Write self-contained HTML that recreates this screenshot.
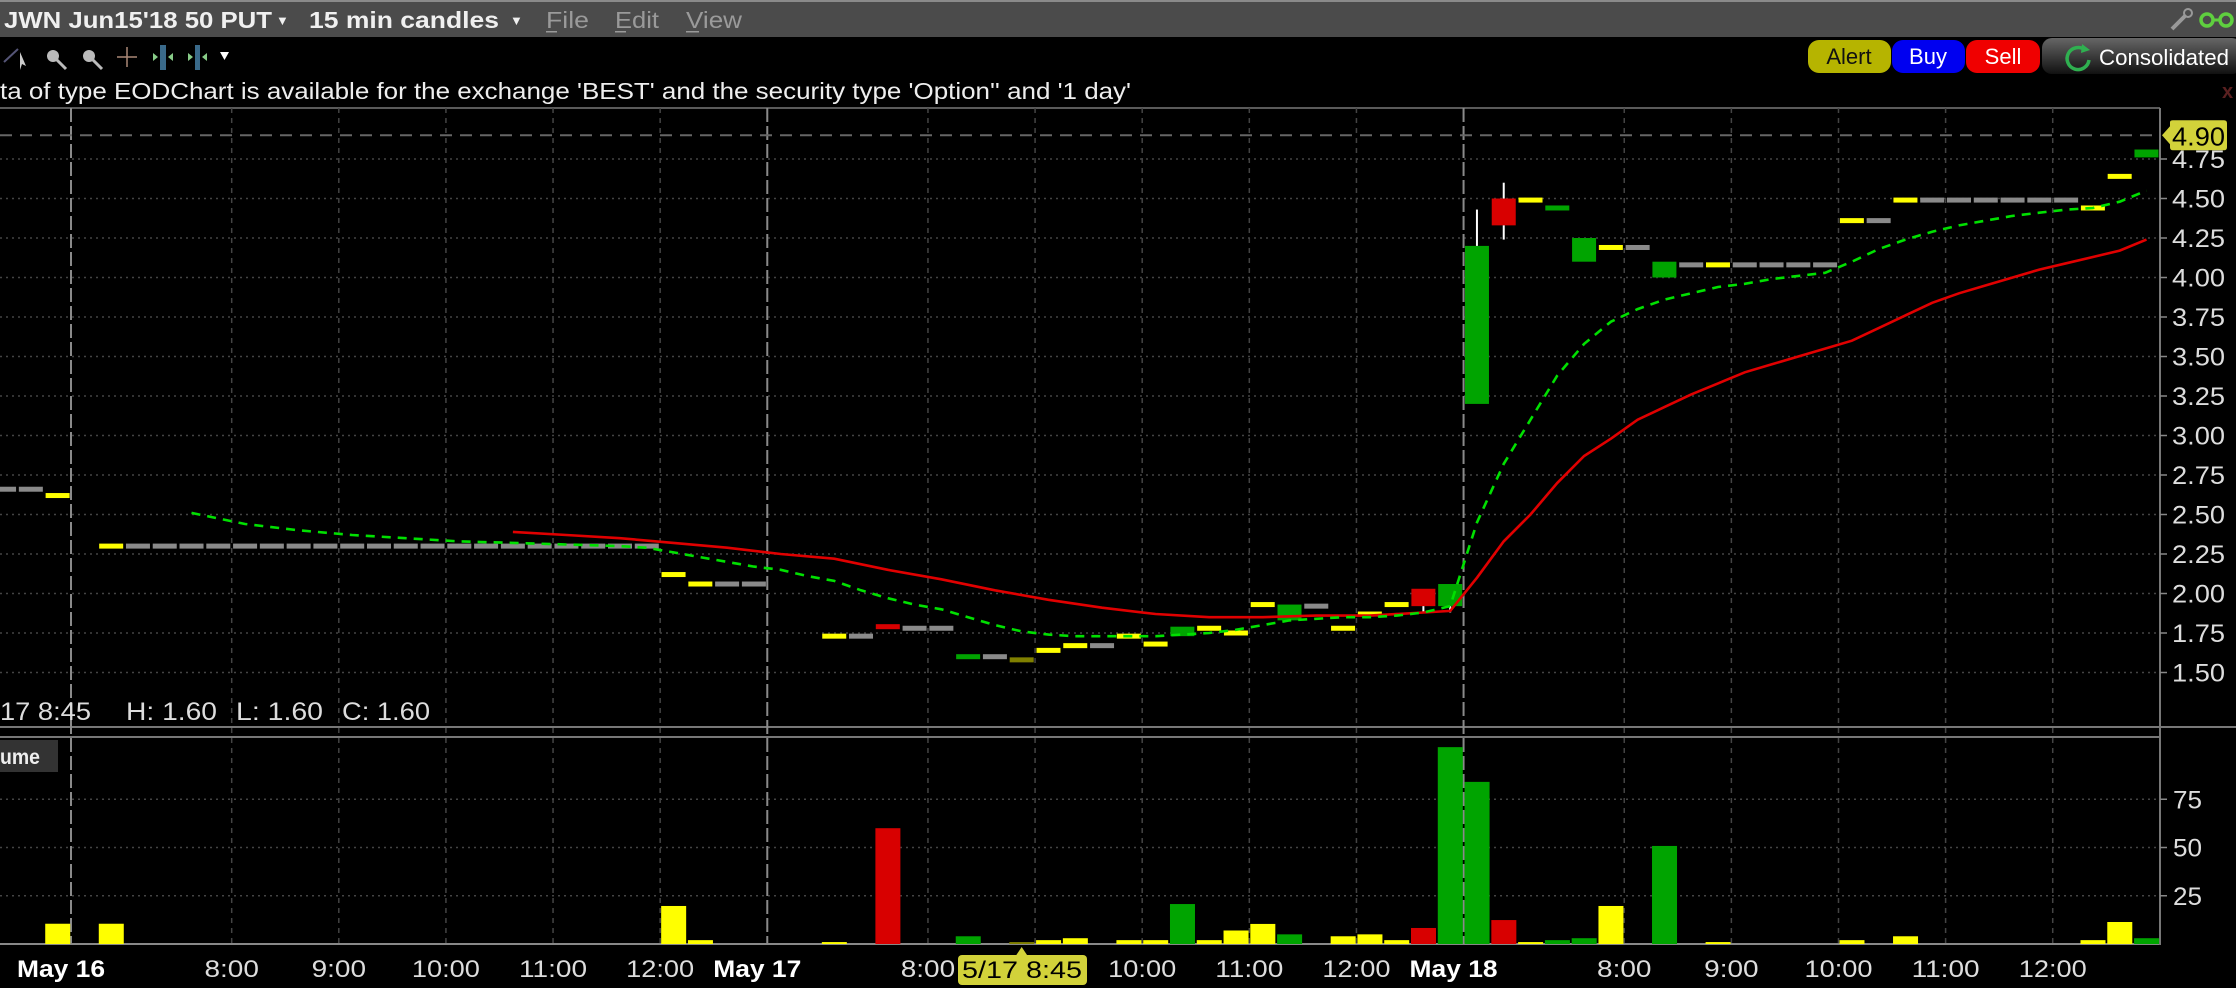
<!DOCTYPE html>
<html><head><meta charset="utf-8"><style>
html,body{margin:0;padding:0;background:#000;width:2236px;height:988px;overflow:hidden}
svg{display:block;font-family:"Liberation Sans",sans-serif}
</style></head><body>
<svg id="chart" xmlns="http://www.w3.org/2000/svg" width="2236" height="988" viewBox="0 0 2236 988">
<rect x="0" y="0" width="2236" height="988" fill="#000"/>
<g>
<rect x="0" y="0" width="2236" height="37" fill="#4b4b4b"/>
<rect x="0" y="0" width="2236" height="2" fill="#8a8a8a"/>
<text x="4" y="28" font-size="23" font-weight="bold" fill="#f0f0f0" textLength="268" lengthAdjust="spacingAndGlyphs">JWN Jun15'18 50 PUT</text>
<text x="276" y="25" font-size="13" fill="#f0f0f0">▼</text>
<text x="309" y="28" font-size="23" font-weight="bold" fill="#f0f0f0" textLength="190" lengthAdjust="spacingAndGlyphs">15 min candles</text>
<text x="510" y="25" font-size="13" fill="#f0f0f0">▼</text>
<text x="546" y="28" font-size="23" fill="#9a9a9a" textLength="43" lengthAdjust="spacingAndGlyphs">File</text>
<rect x="546" y="31" width="11" height="1.5" fill="#9a9a9a"/>
<text x="615" y="28" font-size="23" fill="#9a9a9a" textLength="44" lengthAdjust="spacingAndGlyphs">Edit</text>
<rect x="615" y="31" width="11" height="1.5" fill="#9a9a9a"/>
<text x="686" y="28" font-size="23" fill="#9a9a9a" textLength="56" lengthAdjust="spacingAndGlyphs">View</text>
<rect x="686" y="31" width="13" height="1.5" fill="#9a9a9a"/>
<g><line x1="2172" y1="29" x2="2186" y2="15" stroke="#999" stroke-width="4"/><circle cx="2188" cy="13" r="4" fill="none" stroke="#999" stroke-width="2"/></g>
<g><circle cx="2207" cy="20" r="6" fill="none" stroke="#5fcf3f" stroke-width="3.5"/><circle cx="2226" cy="20" r="6" fill="none" stroke="#5fcf3f" stroke-width="3.5"/><line x1="2213" y1="20" x2="2220" y2="20" stroke="#5fcf3f" stroke-width="3"/></g>
</g>
<g>
<g><line x1="4" y1="62" x2="18" y2="49" stroke="#557" stroke-width="2"/><path d="M20 52 L26 66 L22 64 L20 70 Z" fill="#ccc"/></g>
<g><circle cx="53" cy="56" r="6" fill="#bbb"/><line x1="57" y1="60" x2="66" y2="69" stroke="#bbb" stroke-width="3"/></g>
<g><circle cx="89" cy="56" r="6" fill="#bbb"/><line x1="93" y1="60" x2="102" y2="69" stroke="#bbb" stroke-width="3"/></g>
<g><line x1="117" y1="57" x2="137" y2="57" stroke="#a87" stroke-width="1.5"/><line x1="127" y1="47" x2="127" y2="67" stroke="#a87" stroke-width="1.5"/></g>
<g><rect x="160" y="45" width="6" height="25" fill="#3a6a8a"/><path d="M158 57 L153 53 L153 61 Z M168 57 L173 53 L173 61 Z" fill="#8c8"/></g>
<g><rect x="195" y="45" width="5" height="25" fill="#3a6a8a"/><path d="M193 57 L188 53 L188 61 Z M202 57 L207 53 L207 61 Z" fill="#8c8"/></g>
<path d="M220 52 L229 52 L224.5 60 Z" fill="#fff"/>
<rect x="1808" y="40" width="83" height="33" rx="11" fill="#b6b400"/>
<text x="1849" y="64" font-size="22" fill="#111" text-anchor="middle">Alert</text>
<rect x="1892" y="40" width="73" height="33" rx="11" fill="#0000f0"/>
<text x="1928" y="64" font-size="22" fill="#fff" text-anchor="middle">Buy</text>
<rect x="1966" y="40" width="74" height="33" rx="11" fill="#f00000"/>
<text x="2003" y="64" font-size="22" fill="#fff" text-anchor="middle">Sell</text>
<defs><linearGradient id="cg" x1="0" y1="0" x2="0" y2="1"><stop offset="0" stop-color="#666"/><stop offset="1" stop-color="#111"/></linearGradient></defs>
<rect x="2042" y="38" width="200" height="36" rx="10" fill="url(#cg)"/>
<path d="M2085 50 A11 11 0 1 0 2089 60" fill="none" stroke="#2fb050" stroke-width="3.5"/>
<path d="M2082 44 L2090 50 L2081 53 Z" fill="#2fb050"/>
<text x="2099" y="65" font-size="22" fill="#fff" textLength="130" lengthAdjust="spacingAndGlyphs">Consolidated</text>
<text x="2222" y="98" font-size="20" font-weight="bold" fill="#5a2020">x</text>
</g>
<text x="0" y="99" font-size="23" fill="#eee" textLength="1131" lengthAdjust="spacingAndGlyphs">ta of type EODChart is available for the exchange 'BEST' and the security type 'Option'' and '1 day'</text>
<g id="grid"></g>
<g id="series"></g>
<g id="overlay"></g>
</svg>
<script>
// ---- data ----
const priceTicks = [1.50,1.75,2.00,2.25,2.50,2.75,3.00,3.25,3.50,3.75,4.00,4.25,4.50,4.75];
const volumeTicks = [25,50,75];
const timeLabels = ["May 16","8:00","9:00","10:00","11:00","12:00","May 17","8:00","9:00","10:00","11:00","12:00","May 18","8:00","9:00","10:00","11:00","12:00"];
const timeLabelIndex = [0,6,10,14,18,22,26,32,36,40,44,48,52,58,62,66,70,74];
const dayStartIndex = [0,26,52];
// candles
const candleIdx   = [-3,-2,-1,1,2,3,4,5,6,7,8,9,10,11,12,13,14,15,16,17,18,19,20,21,22,23,24,25,28,29,30,31,32,33,34,35,36,37,38,39,40,41,42,43,44,45,46,47,48,49,50,51,52,53,54,55,56,57,58,59,60,61,62,63,64,65,66,67,68,69,70,71,72,73,74,75,76,77];
const candleOpen  = [2.66,2.66,2.62,2.30,2.30,2.30,2.30,2.30,2.30,2.30,2.30,2.30,2.30,2.30,2.30,2.30,2.30,2.30,2.30,2.30,2.30,2.30,2.30,2.30,2.12,2.06,2.06,2.06,1.73,1.73,1.79,1.78,1.78,1.60,1.60,1.58,1.64,1.67,1.67,1.73,1.68,1.73,1.78,1.75,1.93,1.83,1.92,1.78,1.87,1.93,2.03,1.92,3.20,4.50,4.49,4.44,4.10,4.19,4.19,4.00,4.08,4.08,4.08,4.08,4.08,4.08,4.36,4.36,4.49,4.49,4.49,4.49,4.49,4.49,4.49,4.44,4.64,4.76];
const candleClose = [2.66,2.66,2.62,2.30,2.30,2.30,2.30,2.30,2.30,2.30,2.30,2.30,2.30,2.30,2.30,2.30,2.30,2.30,2.30,2.30,2.30,2.30,2.30,2.30,2.12,2.06,2.06,2.06,1.73,1.73,1.79,1.78,1.78,1.60,1.60,1.58,1.64,1.67,1.67,1.73,1.68,1.79,1.78,1.75,1.93,1.93,1.92,1.78,1.87,1.93,1.92,2.06,4.20,4.33,4.49,4.44,4.25,4.19,4.19,4.10,4.08,4.08,4.08,4.08,4.08,4.08,4.36,4.36,4.49,4.49,4.49,4.49,4.49,4.49,4.49,4.44,4.64,4.81];
const wickIdx  = [50,51,52,53];
const wickHigh = [2.03,2.06,4.43,4.60];
const wickLow  = [1.88,1.88,3.20,4.24];
// candle kind: y=traded unchanged, n=no trade, g=up, r=down, o=olive
const candleKind = ["n","n","y","y",
  "n","n","n","n","n","n","n","n","n","n","n","n","n","n","n","n","n","n","n","n",
  "y","y","n","n",
  "y","n","r","n","n","g","n","o","y","y","n","y","y","g","y","y","y","g","n","y","y","y","r","g",
  "g","r","y","g","g","y","n","g","n","y","n","n","n","n","y","n","y","n","n","n","n","n","n","y","y","g"];
// volume
const volIdx  = [-1,1,22,23,28,30,33,35,36,37,39,40,41,42,43,44,45,47,48,49,50,51,52,53,54,55,56,57,59,61,66,68,75,76,77];
const volVal  = [10.5,10.5,19.7,2,1,60,4,1,2,3,2,2,20.7,2,7,10.4,5,4,5,2,8.3,102,84,12.4,1,2,3,19.7,50.8,1,2,4,2,11.4,3];
const volKind = ["y","y","y","y","y","r","g","o","y","y","y","y","g","y","y","y","g","y","y","y","r","g","g","r","y","g","g","y","g","y","y","y","y","y","g"];
// moving averages
const fastIdx = [4,6,8,10,12,14,16,18,20,21,22,23,24,25,26,27,28,29,30,31,32,33,34,35,36,37,38,39,40,41,42,43,44,45,46,47,48,49,50,51,52,53,54,55,56,57,58,59,60,61,62,63,64,65,66,67,68,69,70,71,72,73,74,75,76,77];
const fastVal = [2.51,2.44,2.40,2.37,2.35,2.33,2.32,2.31,2.30,2.29,2.26,2.23,2.20,2.17,2.15,2.11,2.08,2.02,1.97,1.93,1.90,1.85,1.80,1.76,1.74,1.73,1.73,1.73,1.73,1.74,1.75,1.77,1.80,1.83,1.84,1.85,1.85,1.86,1.88,1.92,2.45,2.82,3.10,3.38,3.58,3.72,3.80,3.86,3.90,3.94,3.96,3.99,4.01,4.03,4.10,4.18,4.24,4.29,4.33,4.36,4.39,4.41,4.43,4.44,4.48,4.55];
const slowIdx = [16,18,20,22,24,26,28,30,32,34,36,38,40,42,44,46,48,50,51,52,53,54,55,56,57,58,59,60,61,62,63,64,65,66,67,68,69,70,71,72,73,74,75,76,77];
const slowVal = [2.39,2.37,2.35,2.32,2.29,2.25,2.22,2.15,2.09,2.02,1.96,1.91,1.87,1.85,1.85,1.86,1.86,1.88,1.89,2.10,2.33,2.50,2.70,2.87,2.98,3.10,3.18,3.26,3.33,3.40,3.45,3.50,3.55,3.60,3.68,3.76,3.84,3.90,3.95,4.00,4.05,4.09,4.13,4.17,4.24];
const lastPrice = 4.90;
const crossIdx = 35;

// ---- axes ----
const NS="http://www.w3.org/2000/svg";
const X0=71, SLOT=26.78, PR=2160;
const xs = i => X0 + i*SLOT;
const xc = i => X0 + (i+0.5)*SLOT;
const yp = p => 159 + (4.75-p)*158;
const VB=944, VK=1.93;
const yv = v => VB - v*VK;
const colors={y:"#ffff00",n:"#8a8a8a",g:"#00a400",r:"#d80000",o:"#808000"};
function mk(tag,attrs,parent,txt){const e=document.createElementNS(NS,tag);for(const k in attrs)e.setAttribute(k,attrs[k]);if(txt!==undefined)e.textContent=txt;parent.appendChild(e);return e;}
const grid=document.getElementById('grid'), series=document.getElementById('series'), ov=document.getElementById('overlay');

let e;
e=mk('line',{x1:0,y1:108,x2:PR,y2:108,stroke:'#5a5a5a','stroke-width':2},grid);


e=mk('line',{x1:0,y1:727,x2:2236,y2:727,stroke:'#777','stroke-width':2},grid);


e=mk('line',{x1:0,y1:737,x2:PR,y2:737,stroke:'#777','stroke-width':2},grid);


e=mk('line',{x1:0,y1:944,x2:PR+1,y2:944,stroke:'#888','stroke-width':2},grid);


e=mk('line',{x1:PR,y1:108,x2:PR,y2:945,stroke:'#777','stroke-width':2},grid);



priceTicks.forEach(p=>{
  e=mk('line',{x1:0,y1:yp(p),x2:PR,y2:yp(p),stroke:'#444','stroke-width':1.5,'stroke-dasharray':'2 4'},grid);
  
  
  e=mk('line',{x1:PR,y1:yp(p),x2:PR+7,y2:yp(p),stroke:'#888','stroke-width':1.5},grid);
  
  
  e=mk('text',{x:2172,y:yp(p)+9,'font-size':25,fill:'#ddd',textLength:53,lengthAdjust:'spacingAndGlyphs'},grid,p.toFixed(2));
  
  
});
volumeTicks.forEach(v=>{
  e=mk('line',{x1:0,y1:yv(v),x2:PR,y2:yv(v),stroke:'#444','stroke-width':1.5,'stroke-dasharray':'2 4'},grid);
  
  
  e=mk('line',{x1:PR,y1:yv(v),x2:PR+7,y2:yv(v),stroke:'#888','stroke-width':1.5},grid);
  
  
  e=mk('text',{x:2173,y:yv(v)+9,'font-size':25,fill:'#ddd',textLength:29,lengthAdjust:'spacingAndGlyphs'},grid,String(v));
  
  
});
timeLabelIndex.forEach((ti,k)=>{
  const isDay = dayStartIndex.indexOf(ti)>=0;
  const x = xs(ti);
  e=mk('line',{x1:x,y1:108,x2:x,y2:944,stroke:isDay?'#8a8a8a':'#444','stroke-width':isDay?2:1.5,'stroke-dasharray':isDay?'14 4':'5 5'},grid);
  
  
  if(ti===crossIdx+1) return;
  const lbl=timeLabels[k];
  e=mk('text',{x:isDay?x-10:x,y:977,'font-size':24,'font-weight':isDay?'bold':'normal',fill:isDay?'#fff':'#ddd','text-anchor':'middle',textLength:isDay?88:lbl.length*13.6,lengthAdjust:'spacingAndGlyphs'},grid,lbl);
  
  
});

function line(idx,val,col,dash,name){
  const d=idx.map((i,k)=>(k?'L':'M')+xc(i).toFixed(1)+' '+yp(val[k]).toFixed(1)).join(' ');
  const a={d:d,fill:'none',stroke:col,'stroke-width':2.6};
  if(dash)a['stroke-dasharray']=dash;
  const p=mk('path',a,series);
  
  
}
const BW=24;
candleIdx.forEach((i,k)=>{
  const o=candleOpen[k], c=candleClose[k], kind=candleKind[k];
  const top=yp(Math.max(o,c)), bot=yp(Math.min(o,c));
  let h=bot-top, y=top;
  if(h<5){y=(top+bot)/2-2.5;h=5;}
  const r=mk('rect',{x:xs(i)+1.4,y:y,width:BW,height:h,fill:colors[kind]},series);
  
  
});
wickIdx.forEach((i,k)=>{
  const ci=candleIdx.indexOf(i);
  const o=candleOpen[ci], c=candleClose[ci];
  const x=xc(i);
  const w1=mk('line',{x1:x,y1:yp(wickHigh[k]),x2:x,y2:yp(Math.max(o,c)),stroke:'#fff','stroke-width':2},series);
  
  
  const w2=mk('line',{x1:x,y1:yp(Math.min(o,c)),x2:x,y2:yp(wickLow[k]),stroke:'#fff','stroke-width':2},series);
  
  
});
line(slowIdx,slowVal,'#e00000',null,'slow-moving-average');
line(fastIdx,fastVal,'#00e000','9 7','fast-moving-average');
volIdx.forEach((i,k)=>{
  const r=mk('rect',{x:xs(i)+1,y:yv(volVal[k]),width:25,height:VB-yv(volVal[k]),fill:colors[volKind[k]]},series);
  
  
});

e=mk('line',{x1:0,y1:yp(lastPrice),x2:PR,y2:yp(lastPrice),stroke:'#666','stroke-width':2,'stroke-dasharray':'12 8'},ov);


const ly=yp(lastPrice);
e=mk('path',{d:`M2162 ${ly} L2170 ${ly-9} L2170 ${ly-13} Q2170 ${ly-15} 2173 ${ly-15} L2224 ${ly-15} Q2227 ${ly-15} 2227 ${ly-12} L2227 ${ly+12} Q2227 ${ly+15} 2224 ${ly+15} L2173 ${ly+15} Q2170 ${ly+15} 2170 ${ly+12} L2170 ${ly+9} Z`,fill:'#d2d23a'},ov);


e=mk('text',{x:2172,y:ly+10,'font-size':26,fill:'#000',textLength:53,lengthAdjust:'spacingAndGlyphs'},ov,lastPrice.toFixed(2));



const cx=xc(crossIdx);
e=mk('path',{d:`M${cx-6} 956 L${cx} 947 L${cx+6} 956 Z`,fill:'#d2d23a'},ov);


e=mk('rect',{x:958,y:955,width:129,height:30,rx:4,fill:'#d2d23a'},ov);


e=mk('text',{x:1022,y:978,'font-size':24,fill:'#000','text-anchor':'middle',textLength:120,lengthAdjust:'spacingAndGlyphs'},ov,'5/17 8:45');



e=mk('text',{x:0,y:720,'font-size':25,fill:'#ddd',textLength:91,lengthAdjust:'spacingAndGlyphs'},ov,'17 8:45');


e=mk('text',{x:126,y:720,'font-size':25,fill:'#ddd',textLength:91,lengthAdjust:'spacingAndGlyphs'},ov,'H: 1.60');


e=mk('text',{x:236,y:720,'font-size':25,fill:'#ddd',textLength:87,lengthAdjust:'spacingAndGlyphs'},ov,'L: 1.60');


e=mk('text',{x:342,y:720,'font-size':25,fill:'#ddd',textLength:88,lengthAdjust:'spacingAndGlyphs'},ov,'C: 1.60');


e=mk('rect',{x:0,y:740,width:58,height:32,fill:'#333'},ov);


e=mk('text',{x:0,y:764,'font-size':21,'font-weight':'bold',fill:'#eee',textLength:40,lengthAdjust:'spacingAndGlyphs'},ov,'ume');


</script>
</body></html>
